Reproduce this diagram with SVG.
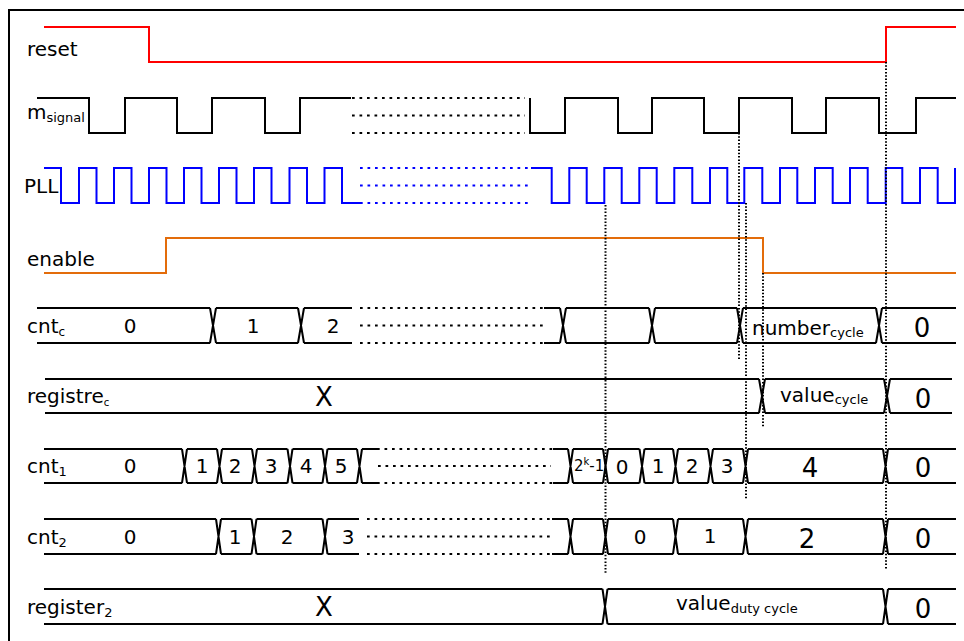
<svg xmlns="http://www.w3.org/2000/svg" width="964" height="641" viewBox="0 0 964 641">
<style>
text{font-family:"DejaVu Sans","Liberation Sans",sans-serif;fill:#000}
.lbl{font-size:20px}
.v{font-size:20px;text-anchor:middle}
.big{font-size:26px;text-anchor:middle}
.w{fill:none;stroke-width:2;stroke-linejoin:miter;stroke-linecap:butt}
.bus{fill:none;stroke:#000;stroke-width:2}
.dash{fill:none;stroke-width:2;stroke-dasharray:2.7 4.8}
.vdot{fill:none;stroke:#000;stroke-width:2;stroke-dasharray:1.5 1.8}
</style>
<rect x="9" y="10" width="1000" height="700" fill="#fff" stroke="#000" stroke-width="2"/>

<g id="reset">
<text class="lbl" x="27" y="56">reset</text>
<path class="w" stroke="#ff0000" d="M44,27H149V62H886V27H956"/>
</g>

<g id="m_signal">
<text class="lbl" x="27" y="119">m<tspan font-size="13" dy="3">signal</tspan></text>
<path class="w" stroke="#000" d="M37,98H89V133H125V98H177V133H212V98H265V133H300V98H351"/>
<path class="dash" stroke="#000" d="M352,98H525M352,115.5H525M352,133H525"/>
<path class="w" stroke="#000" d="M530,98V133H565V98H618V133H652V98H704V133H739V98H792V133H826V98H879V133H916V98H956"/>
</g>

<g id="PLL">
<text class="lbl" x="24" y="193">PLL</text>
<path class="w" stroke="#0000ff" d="M44,168H61V203H79V168H96.5V203H114V168H131.5V203H149V168H166.5V203H184V168H201.5V203H219V168H236.5V203H254V168H271.5V203H289.5V168H307V203H324.5V168H342V203H360"/>
<path class="dash" stroke="#0000ff" d="M360,168H531M360,185.5H531M360,203H531"/>
<path class="w" stroke="#0000ff" d="M531,168H551.7V203H569.3V168H586.7V203H604.3V168H621.7V203H639.3V168H656.7V203H674.3V168H692.3V203H710V168H727.3V203H744.3V168H762.3V203H780V168H797.3V203H815V168H832.7V203H850V168H867.7V203H885.7V168H902.3V203H920V168H937.7V203H955V168"/>
</g>

<g id="enable">
<text class="lbl" x="27" y="266">enable</text>
<path class="w" stroke="#e36c0a" d="M44,273H166V238H763V273H956"/>
</g>

<g id="cnt_c">
<text class="lbl" x="27" y="333">cnt<tspan font-size="12" dy="3">c</tspan></text>
<path class="bus" d="M37,308H210M37,343H210M210,308L216,343M210,343L216,308M216,308H298M216,343H298M298,308L304,343M298,343L304,308M304,308H352M304,343H352M544,308H560M544,343H560M560,308L566,343M560,343L566,308M566,308H649M566,343H649M649,308L655,343M649,343L655,308M655,308H737M655,343H737M737,308L743,343M737,343L743,308M743,308H876M743,343H876M876,308L882,343M876,343L882,308M882,308H956M882,343H956"/>
<path class="dash" stroke="#000" d="M360,308H544M360,325.5H546M360,343H544"/>
<text class="v" x="130" y="333">0</text>
<text class="v" x="253" y="333">1</text>
<text class="v" x="333" y="333">2</text>
<text class="lbl" x="752" y="335">number<tspan font-size="13" dy="2">cycle</tspan></text>
<text class="big" x="922" y="337">0</text>
</g>

<g id="registre_c">
<text class="lbl" x="27" y="403">registre<tspan font-size="10" dy="3">c</tspan></text>
<path class="bus" d="M45,379H759M45,413H759M759,379L765,413M759,413L765,379M765,379H884M765,413H884M884,379L890,413M884,413L890,379M890,379H952M890,413H952"/>
<text class="big" x="324" y="406">X</text>
<text class="lbl" x="780" y="402">value<tspan font-size="13" dy="2">cycle</tspan></text>
<text class="big" x="923" y="408">0</text>
</g>

<g id="cnt_1">
<text class="lbl" x="27" y="473">cnt<tspan font-size="13" dy="3">1</tspan></text>
<path class="bus" d="M44,449H182M44,483H182M182,449L187,483M182,483L187,449M187,449H217M187,483H217M217,449L222,483M217,483L222,449M222,449H252M222,483H252M252,449L257,483M252,483L257,449M257,449H287.5M257,483H287.5M287.5,449L292.5,483M287.5,483L292.5,449M292.5,449H322.5M292.5,483H322.5M322.5,449L327.5,483M322.5,483L327.5,449M327.5,449H357M327.5,483H357M357,449L362,483M357,483L362,449M362,449H377M362,483H377M553,449H568M553,483H568M568,449L573,483M568,483L573,449M573,449H603M573,483H603M603,449L608,483M603,483L608,449M608,449H639.5M608,483H639.5M639.5,449L644.5,483M639.5,483L644.5,449M644.5,449H673M644.5,483H673M673,449L678,483M673,483L678,449M678,449H708M678,483H708M708,449L713,483M708,483L713,449M713,449H743M713,483H743M743,449L748,483M743,483L748,449M748,449H883M748,483H883M883,449L888,483M883,483L888,449M888,449H956M888,483H956"/>
<path class="dash" stroke="#000" d="M377,449H553M378,466H551M377,483H553"/>
<text class="v" x="130" y="473">0</text>
<text class="v" x="202" y="473">1</text>
<text class="v" x="235" y="473">2</text>
<text class="v" x="271" y="473">3</text>
<text class="v" x="306" y="473">4</text>
<text class="v" x="341" y="473">5</text>
<text x="574" y="471" font-size="15">2<tspan font-size="10" dy="-6">k</tspan><tspan dy="6">-1</tspan></text>
<text class="v" x="622" y="474" font-size="22">0</text>
<text class="v" x="658" y="473">1</text>
<text class="v" x="692" y="473">2</text>
<text class="v" x="727" y="473">3</text>
<text class="big" x="810" y="477">4</text>
<text class="big" x="923" y="477">0</text>
</g>

<g id="cnt_2">
<text class="lbl" x="27" y="544">cnt<tspan font-size="13" dy="3">2</tspan></text>
<path class="bus" d="M44,519H216M44,554H216M216,519L221,554M216,554L221,519M221,519H251.5M221,554H251.5M251.5,519L256.5,554M251.5,554L256.5,519M256.5,519H322.5M256.5,554H322.5M322.5,519L327.5,554M322.5,554L327.5,519M327.5,519H359M327.5,554H359M552,519H568M552,554H568M568,519L573,554M568,554L573,519M573,519H603M573,554H603M603,519L608,554M603,554L608,519M608,519H673M608,554H673M673,519L678,554M673,554L678,519M678,519H743M678,554H743M743,519L748,554M743,554L748,519M748,519H883M748,554H883M883,519L888,554M883,554L888,519M888,519H956M888,554H956"/>
<path class="dash" stroke="#000" d="M367,519H552M367,536.5H551M367,554H552"/>
<text class="v" x="130" y="544">0</text>
<text class="v" x="235" y="544">1</text>
<text class="v" x="287" y="544">2</text>
<text class="v" x="348" y="544">3</text>
<text class="v" x="640" y="544">0</text>
<text class="v" x="710" y="543">1</text>
<text class="big" x="807" y="548">2</text>
<text class="big" x="923" y="548">0</text>
</g>

<g id="register_2">
<text class="lbl" x="27" y="614">register<tspan font-size="13" dy="3">2</tspan></text>
<path class="bus" d="M44,589H602.5M44,624H602.5M602.5,589L607.5,624M602.5,624L607.5,589M607.5,589H883M607.5,624H883M883,589L888,624M883,624L888,589M888,589H956M888,624H956"/>
<text class="big" x="324" y="616">X</text>
<text class="lbl" x="676" y="610">value<tspan font-size="13" dy="3">duty cycle</tspan></text>
<text class="big" x="923" y="618">0</text>
</g>

<g id="connectors">
<path class="vdot" d="M605.5,205V573"/>
<path class="vdot" d="M739,133V360"/>
<path class="vdot" d="M746,203V499"/>
<path class="vdot" d="M763,273V428"/>
<path class="vdot" d="M886,62V569"/>
</g>
</svg>
